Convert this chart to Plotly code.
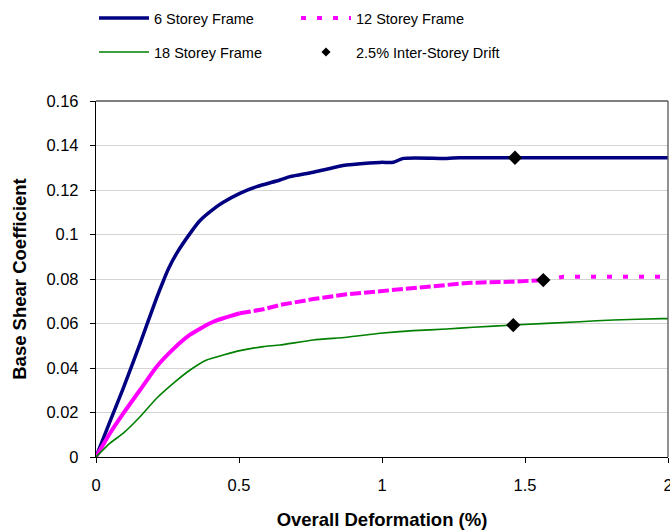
import plotly.graph_objects as go

# ---- data ----
x6 = [0, 0.049, 0.0955, 0.154, 0.212, 0.235, 0.253, 0.282, 0.329, 0.364, 0.422, 0.445, 0.503, 0.562,
      0.643, 0.678, 0.76, 0.876, 0.993, 1.04, 1.075, 1.226, 1.273, 1.465, 1.7, 2.0]
y6 = [0, 0.016, 0.031, 0.051, 0.0715, 0.079, 0.0845, 0.0915, 0.1005, 0.1063, 0.1125, 0.1145, 0.1185, 0.1215,
      0.1245, 0.126, 0.128, 0.1312, 0.1324, 0.1325, 0.1342, 0.1342, 0.1345, 0.1345, 0.1345, 0.1345]

x12 = [0, 0.049, 0.0955, 0.154, 0.212, 0.27, 0.329, 0.41, 0.503, 0.585, 0.643, 0.678, 0.76, 0.876,
       0.993, 1.109, 1.226, 1.308, 1.459, 1.564, 1.634, 1.8, 2.0]
y12 = [0, 0.0107, 0.0196, 0.0301, 0.0406, 0.0485, 0.055, 0.0608, 0.0646, 0.0664, 0.0683, 0.0691, 0.071, 0.0731,
       0.0745, 0.0761, 0.0773, 0.0783, 0.0788, 0.0795, 0.081, 0.081, 0.081]

x18 = [0, 0.049, 0.0955, 0.154, 0.212, 0.27, 0.329, 0.387, 0.445, 0.503, 0.585, 0.643, 0.76, 0.876,
       0.993, 1.109, 1.226, 1.319, 1.459, 1.692, 1.81, 1.98, 2.0]
y18 = [0, 0.0062, 0.0107, 0.0181, 0.0264, 0.0331, 0.0391, 0.0436, 0.0458, 0.0478, 0.0496, 0.0503, 0.0526, 0.0538,
       0.0556, 0.0568, 0.0575, 0.0583, 0.0593, 0.0608, 0.0616, 0.0622, 0.0622]

drift_x = [1.465, 1.564, 1.459]
drift_y = [0.1345, 0.0795, 0.0593]

series_names = ["6 Storey Frame", "12 Storey Frame", "18 Storey Frame", "2.5% Inter-Storey Drift"]
x_ticks = [0, 0.5, 1, 1.5, 2]
x_tick_labels = ["0", "0.5", "1", "1.5", "2"]
y_ticks = [0, 0.02, 0.04, 0.06, 0.08, 0.1, 0.12, 0.14, 0.16]
y_tick_labels = ["0", "0.02", "0.04", "0.06", "0.08", "0.1", "0.12", "0.14", "0.16"]

FONT = "Liberation Sans, Arial, sans-serif"

# index breakpoints where the dashed 12-storey line changes its look
# (dense data: looks solid; sparse data: clear dashes)
i_a = x12.index(0.503)
i_b = x12.index(1.564)

fig = go.Figure()
fig.add_trace(go.Scatter(x=x6, y=y6, mode="lines", name=series_names[0],
                         line=dict(color="#000080", width=3.5, shape="spline", smoothing=0.8),
                         legend="legend"))
fig.add_trace(go.Scatter(x=x12[:i_a + 1], y=y12[:i_a + 1], mode="lines", name=series_names[1],
                         line=dict(color="#FF00FF", width=4, shape="spline", smoothing=0.6),
                         showlegend=False))
fig.add_trace(go.Scatter(x=x12[i_a:i_b + 1], y=y12[i_a:i_b + 1], mode="lines", name=series_names[1],
                         line=dict(color="#FF00FF", width=4, dash="11px,3px"),
                         showlegend=False))
fig.add_trace(go.Scatter(x=x12[i_b:], y=y12[i_b:], mode="lines", name=series_names[1],
                         line=dict(color="#FF00FF", width=4, dash="5px,11px"),
                         legend="legend2"))
fig.add_trace(go.Scatter(x=x18, y=y18, mode="lines", name=series_names[2],
                         line=dict(color="#008000", width=1.6, shape="spline", smoothing=0.5),
                         legend="legend3"))
fig.add_trace(go.Scatter(x=drift_x, y=drift_y, mode="markers", name=series_names[3],
                         marker=dict(symbol="diamond", color="black", size=11),
                         showlegend=False))
fig.add_trace(go.Scatter(x=[None], y=[None], mode="markers", name=series_names[3],
                         marker=dict(symbol="diamond", color="black", size=7), legend="legend4"))

legend_common = dict(orientation="h", xref="container", yref="container",
                     xanchor="left", yanchor="middle",
                     itemwidth=50, font=dict(family=FONT, size=14.5, color="black"),
                     bgcolor="rgba(0,0,0,0)", borderwidth=0)

col1, col2 = 94 / 670, 296 / 670
row1, row2 = 1 - 18 / 531, 1 - 52 / 531

fig.update_layout(
    width=670, height=531,
    margin=dict(l=96, r=2, t=101, b=74, autoexpand=False),
    paper_bgcolor="white", plot_bgcolor="white",
    font=dict(family=FONT, size=16, color="black"),
    legend=dict(x=col1, y=row1, **legend_common),
    legend2=dict(x=col2, y=row1, **legend_common),
    legend3=dict(x=col1, y=row2, **legend_common),
    legend4=dict(x=col2, y=row2, **legend_common),
    xaxis=dict(range=[0, 2], tickvals=x_ticks, ticktext=x_tick_labels,
               showgrid=False, zeroline=False, automargin=False,
               showline=True, linecolor="#000", linewidth=1.3, mirror=False,
               ticks="outside", ticklen=5, tickcolor="#000",
               ticklabelstandoff=8, ticklabeloverflow="allow",
               tickfont=dict(family=FONT, size=16.5),
               title=dict(text="<b>Overall Deformation (%)</b>", standoff=20,
                          font=dict(family=FONT, size=18.5))),
    yaxis=dict(range=[0, 0.16], tickvals=y_ticks, ticktext=y_tick_labels,
               showgrid=True, gridcolor="#d4d4d4", gridwidth=1, zeroline=False, automargin=False,
               showline=True, linecolor="#000", linewidth=1.3, mirror=False,
               ticks="outside", ticklen=5, tickcolor="#000",
               ticklabelstandoff=8,
               tickfont=dict(family=FONT, size=16.5),
               title=dict(text="<b>Base Shear Coefficient</b>", standoff=14,
                          font=dict(family=FONT, size=18.5))),
    shapes=[
        dict(type="line", xref="paper", yref="paper", x0=0, x1=1, y0=1, y1=1,
             line=dict(color="#555", width=1.3)),
        dict(type="line", xref="paper", yref="paper", x0=1, x1=1, y0=0, y1=1,
             line=dict(color="#555", width=1.3)),
    ],
)

fig.write_html("out.html", config={"displayModeBar": False},
               post_script="document.body.style.margin='0px';")
